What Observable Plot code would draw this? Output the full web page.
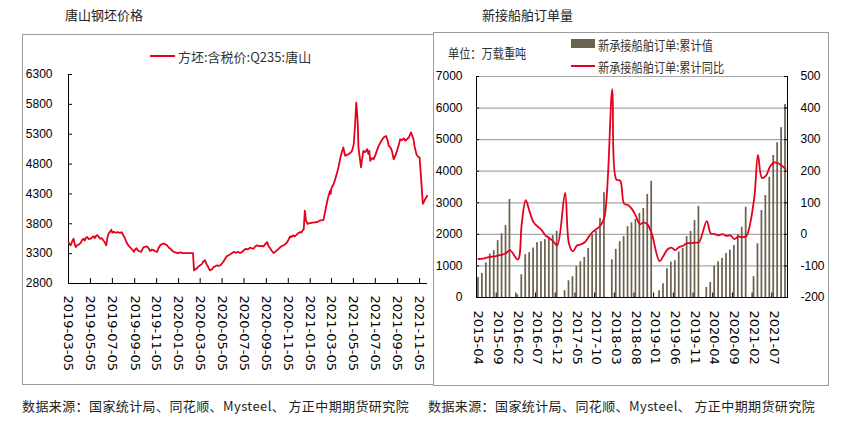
<!DOCTYPE html>
<html><head><meta charset="utf-8">
<script src="https://cdn.jsdelivr.net/npm/d3@7"></script>
<script src="https://cdn.jsdelivr.net/npm/@observablehq/plot@0.6"></script>
<style>
body{margin:0;background:#fff;}
#root{position:relative;width:842px;height:428px;overflow:hidden;background:#fff;font-family:"Noto Sans CJK SC","Noto Sans",sans-serif;}
#root svg{position:absolute;left:0;top:0;}
.t{position:absolute;white-space:nowrap;color:#222;line-height:1;font-size:13px;}
.box{position:absolute;border:1px solid #9c9c9c;box-sizing:border-box;}
.sx{transform:scaleX(0.86);transform-origin:left center;}
</style></head><body><div id="root"></div>
<script>
// ---------- Left chart: 唐山钢坯价格 ----------
const priceDates = ["2019-03-05","2019-03-08","2019-03-11","2019-03-15","2019-03-19","2019-03-22","2019-03-25","2019-03-29","2019-04-03","2019-04-08","2019-04-12","2019-04-16","2019-04-19","2019-04-23","2019-04-26","2019-04-30","2019-05-06","2019-05-10","2019-05-14","2019-05-17","2019-05-21","2019-05-24","2019-05-28","2019-06-01","2019-06-05","2019-06-10","2019-06-14","2019-06-18","2019-06-21","2019-06-24","2019-06-28","2019-07-02","2019-07-05","2019-07-09","2019-07-15","2019-07-22","2019-07-26","2019-07-31","2019-08-05","2019-08-08","2019-08-13","2019-08-16","2019-08-21","2019-08-26","2019-08-30","2019-09-03","2019-09-06","2019-09-10","2019-09-13","2019-09-18","2019-09-23","2019-09-27","2019-09-30","2019-10-09","2019-10-14","2019-10-18","2019-10-23","2019-10-28","2019-11-01","2019-11-06","2019-11-11","2019-11-15","2019-11-20","2019-11-25","2019-11-29","2019-12-04","2019-12-09","2019-12-13","2019-12-18","2019-12-23","2019-12-27","2020-01-03","2020-01-10","2020-01-16","2020-02-14","2020-02-17","2020-02-20","2020-02-25","2020-02-28","2020-03-05","2020-03-09","2020-03-13","2020-03-18","2020-03-23","2020-03-27","2020-04-01","2020-04-07","2020-04-11","2020-04-16","2020-04-21","2020-04-26","2020-04-30","2020-05-08","2020-05-13","2020-05-18","2020-05-22","2020-05-28","2020-06-02","2020-06-06","2020-06-12","2020-06-18","2020-06-24","2020-06-30","2020-07-06","2020-07-10","2020-07-15","2020-07-22","2020-07-27","2020-07-31","2020-08-05","2020-08-10","2020-08-17","2020-08-24","2020-08-28","2020-09-02","2020-09-07","2020-09-11","2020-09-16","2020-09-21","2020-09-25","2020-09-30","2020-10-09","2020-10-14","2020-10-19","2020-10-23","2020-10-28","2020-11-02","2020-11-06","2020-11-10","2020-11-13","2020-11-18","2020-11-23","2020-11-27","2020-12-02","2020-12-07","2020-12-11","2020-12-15","2020-12-18","2020-12-21","2020-12-24","2020-12-28","2021-01-04","2021-01-11","2021-01-18","2021-01-25","2021-02-01","2021-02-08","2021-02-11","2021-02-16","2021-02-22","2021-02-25","2021-03-01","2021-03-03","2021-03-05","2021-03-09","2021-03-12","2021-03-16","2021-03-20","2021-03-25","2021-03-30","2021-04-02","2021-04-07","2021-04-12","2021-04-16","2021-04-22","2021-04-27","2021-05-01","2021-05-06","2021-05-10","2021-05-13","2021-05-17","2021-05-19","2021-05-24","2021-05-26","2021-05-31","2021-06-02","2021-06-07","2021-06-12","2021-06-16","2021-06-18","2021-06-21","2021-06-25","2021-06-30","2021-07-05","2021-07-09","2021-07-14","2021-07-19","2021-07-23","2021-07-28","2021-08-04","2021-08-09","2021-08-11","2021-08-16","2021-08-20","2021-08-25","2021-08-30","2021-09-03","2021-09-08","2021-09-12","2021-09-17","2021-09-22","2021-09-26","2021-10-06","2021-10-12","2021-10-15","2021-10-19","2021-10-22","2021-10-27","2021-11-01","2021-11-05","2021-11-09","2021-11-14","2021-11-18","2021-11-21","2021-11-26"];
const priceValues = [3490,3460,3440,3500,3550,3470,3410,3440,3455,3480,3530,3550,3520,3570,3580,3545,3550,3575,3590,3560,3600,3610,3580,3550,3560,3520,3490,3440,3560,3630,3660,3700,3650,3665,3650,3660,3645,3660,3600,3570,3490,3460,3420,3390,3360,3330,3370,3390,3360,3340,3330,3380,3410,3420,3390,3345,3370,3355,3340,3330,3400,3440,3460,3470,3455,3440,3400,3385,3350,3330,3320,3310,3320,3310,3310,3020,3040,3050,3080,3105,3120,3160,3190,3120,3080,3020,3040,3075,3090,3105,3095,3105,3160,3210,3255,3270,3290,3310,3330,3315,3330,3310,3330,3365,3380,3370,3400,3390,3385,3420,3440,3425,3430,3420,3460,3494,3430,3385,3340,3310,3330,3380,3410,3430,3440,3460,3494,3540,3590,3575,3605,3590,3610,3640,3660,3650,3690,3710,4020,3860,3800,3810,3820,3825,3830,3855,3860,3865,4020,4200,4270,4350,4300,4400,4440,4480,4560,4640,4760,4910,4980,5080,4940,4950,4970,4990,5020,5130,5500,5830,5500,5080,4850,4745,4960,5020,5000,5050,4970,5020,4855,4900,4880,4950,5020,5100,5160,5200,5245,5270,5180,5105,5080,5020,4880,4950,5020,5120,5215,5200,5230,5190,5245,5330,5280,5215,5100,4970,4920,4910,4580,4135,4180,4220,4270];
const priceTicks = ["2019-03-05","2019-05-05","2019-07-05","2019-09-05","2019-11-05","2020-01-05","2020-03-05","2020-05-05","2020-07-05","2020-09-05","2020-11-05","2021-01-05","2021-03-05","2021-05-05","2021-07-05","2021-09-05","2021-11-05"];
const priceYTicks = [2800,3300,3800,4300,4800,5300,5800,6300];
const priceXDomain = ["2019-03-05","2021-11-27"];

// ---------- Right chart: 新接船舶订单量 ----------
const months = ["2015-04","2015-05","2015-06","2015-07","2015-08","2015-09","2015-10","2015-11","2015-12",
"2016-01","2016-02","2016-03","2016-04","2016-05","2016-06","2016-07","2016-08","2016-09","2016-10","2016-11","2016-12",
"2017-01","2017-02","2017-03","2017-04","2017-05","2017-06","2017-07","2017-08","2017-09","2017-10","2017-11","2017-12",
"2018-01","2018-02","2018-03","2018-04","2018-05","2018-06","2018-07","2018-08","2018-09","2018-10","2018-11","2018-12",
"2019-01","2019-02","2019-03","2019-04","2019-05","2019-06","2019-07","2019-08","2019-09","2019-10","2019-11","2019-12",
"2020-01","2020-02","2020-03","2020-04","2020-05","2020-06","2020-07","2020-08","2020-09","2020-10","2020-11","2020-12",
"2021-01","2021-02","2021-03","2021-04","2021-05","2021-06","2021-07","2021-08","2021-09","2021-10"];
const orderValues = [635,762,1100,1377,1483,1800,2020,2277,3103,
null,85,720,1356,1419,1567,1737,1768,1832,1906,1960,2097,
null,215,530,657,985,1133,1270,1550,1990,2090,2500,3320,
null,1190,1525,1768,1930,2245,2370,2480,2660,2820,3262,3680,
null,212,435,910,1120,1165,1440,1550,1930,2090,2435,2885,
null,318,477,1000,1133,1239,1390,1500,1645,1990,2223,2858,
null,660,1705,2752,3229,3811,4499,4902,5380,6117];
const orderYoY = [-78,-77,-74,-71,-70,-67,-64,-60,-50,
null,-80,35,108,72,38,25,14,-3,-12,-22,-35,
null,131,-30,-54,-35,-32,-25,-8,8,17,28,54,
null,460,174,170,97,93,80,58,32,38,30,3,
null,-85,-68,-48,-42,-50,-40,-36,-28,-28,-26,-25,
null,42,3,1,-3,1,-5,-3,-15,-7,-9,-6,
null,110,252,179,185,213,227,226,218,207];
const monthTicks = ["2015-04","2015-09","2016-02","2016-07","2016-12","2017-05","2017-10","2018-03","2018-08","2019-01","2019-06","2019-11","2020-04","2020-09","2021-02","2021-07"];
const orderYTicks = [0,1000,2000,3000,4000,5000,6000,7000];
const yoyTicks = [-200,-100,0,100,200,300,400,500];

const W = 842, H = 428;
const RED = "#e5001c", BAR = "#6d6150";
const root = document.getElementById("root");
const baseStyle = {background: "none", fontFamily: "'Liberation Sans', Arial, sans-serif", fontSize: "12px", color: "#000", overflow: "visible"};

// frames
function addDiv(cls, css, html) {
  const d = document.createElement("div");
  d.className = cls; d.style.cssText = css; if (html) d.innerHTML = html;
  root.appendChild(d); return d;
}
addDiv("box", "left:22px;top:34px;width:412px;height:351px;");
addDiv("box", "left:433px;top:32px;width:396px;height:354px;");

// Left plot
const L = {l: 68, r: 427, t: 74, b: 283};
const priceData = priceDates.map((d, i) => ({date: new Date(d), v: priceValues[i]}));
const leftPlot = Plot.plot({
  width: W, height: H,
  marginLeft: L.l, marginRight: W - L.r, marginTop: L.t, marginBottom: H - L.b,
  style: baseStyle,
  x: {type: "utc", domain: priceXDomain.map(d => new Date(d))},
  y: {domain: [2800, 6300]},
  marks: [
    Plot.ruleY(priceYTicks, {stroke: "#000", insetRight: (L.r - L.l) - 4}),
    Plot.ruleX(priceTicks.map(d => new Date(d)), {stroke: "#000", insetTop: (L.b - L.t) - 5}),
    Plot.ruleX([new Date(priceXDomain[0])], {stroke: "#000"}),
    Plot.ruleY([2800], {stroke: "#000"}),
    Plot.axisY({ticks: priceYTicks, tickSize: 0, tickPadding: 16, tickFormat: d => String(d), label: null, fontSize: 12}),
    Plot.axisX({ticks: priceTicks.map(d => new Date(d)), tickSize: 0, tickPadding: 12, tickRotate: 90,
      tickFormat: d3.utcFormat("%Y-%m-%d"), label: null, fontFamily: "DejaVu Sans", fontSize: 13}),
    Plot.lineY(priceData, {x: "date", y: "v", stroke: RED, strokeWidth: 1.8})
  ]
});
root.appendChild(leftPlot);

// Right plots
const R = {l: 476, r: 787, t: 76, b: 297};
const bw = (R.r - R.l) / months.length;
const orderData = months.map((m, i) => ({m, v: orderValues[i], r: orderYoY[i]}));
const barPlot = Plot.plot({
  width: W, height: H,
  marginLeft: R.l, marginRight: W - R.r, marginTop: R.t, marginBottom: H - R.b,
  style: baseStyle,
  x: {type: "band", domain: months, padding: 0},
  y: {domain: [0, 7000]},
  marks: [
    Plot.frame({stroke: "#000"}),
    Plot.ruleY(orderYTicks, {stroke: "#a8a8a8", strokeWidth: 1.2}),
    Plot.ruleY(orderYTicks, {stroke: "#000", insetRight: (R.r - R.l) - 3}),
    Plot.barY(orderData.filter(d => d.v != null), {x: "m", y: "v", fill: BAR, insetLeft: 1.1, insetRight: 1.1}),
    Plot.ruleY([0], {stroke: "#000"}),
    Plot.ruleX(monthTicks, {stroke: "#000", dx: -bw / 2, insetTop: (R.b - R.t) - 4.5}),
    Plot.axisY({ticks: orderYTicks, tickSize: 0, tickPadding: 14, tickFormat: d => String(d), label: null, fontSize: 12}),
    Plot.axisX({ticks: monthTicks, tickSize: 0, tickPadding: 13, tickRotate: 90, label: null, fontFamily: "DejaVu Sans", fontSize: 13})
  ]
});
root.appendChild(barPlot);

const yoyPlot = Plot.plot({
  width: W, height: H,
  marginLeft: R.l, marginRight: W - R.r, marginTop: R.t, marginBottom: H - R.b,
  style: baseStyle,
  x: {type: "band", domain: months, padding: 0, axis: null},
  y: {domain: [-200, 500]},
  marks: [
    Plot.ruleY(yoyTicks, {stroke: "#000", insetLeft: (R.r - R.l) - 3}),
    Plot.axisY({anchor: "right", ticks: yoyTicks, tickSize: 0, tickPadding: 13, tickFormat: d => String(d), label: null, fontSize: 12}),
    Plot.line(orderData.filter(d => d.r != null), {x: "m", y: "r", stroke: RED, strokeWidth: 1.8, curve: "catmull-rom"})
  ]
});
root.appendChild(yoyPlot);

// Titles, legends, footers
addDiv("t", "left:65px;top:7.5px;", "唐山钢坯价格");
addDiv("t", "left:482px;top:7.5px;", "新接船舶订单量");
addDiv("", `position:absolute;left:150px;top:55px;width:25px;height:2px;background:${RED};`);
addDiv("t", "left:178px;top:49.5px;color:#333;", "方坯:含税价:Q235:唐山");
addDiv("", `position:absolute;left:571px;top:39px;width:24px;height:9px;background:${BAR};`);
addDiv("t sx", "left:598px;top:37.5px;color:#333;", "新承接船舶订单:累计值");
addDiv("", `position:absolute;left:571px;top:65px;width:24px;height:2px;background:${RED};`);
addDiv("t sx", "left:598px;top:59.5px;color:#333;", "新承接船舶订单:累计同比");
addDiv("t sx", "left:448px;top:45.5px;color:#333;", "单位：万载重吨");
addDiv("t", "left:22px;top:398.5px;letter-spacing:0.4px;", "数据来源：国家统计局、同花顺、Mysteel、 方正中期期货研究院");
addDiv("t", "left:428px;top:398.5px;letter-spacing:0.4px;", "数据来源：国家统计局、同花顺、Mysteel、 方正中期期货研究院");
</script></body></html>
